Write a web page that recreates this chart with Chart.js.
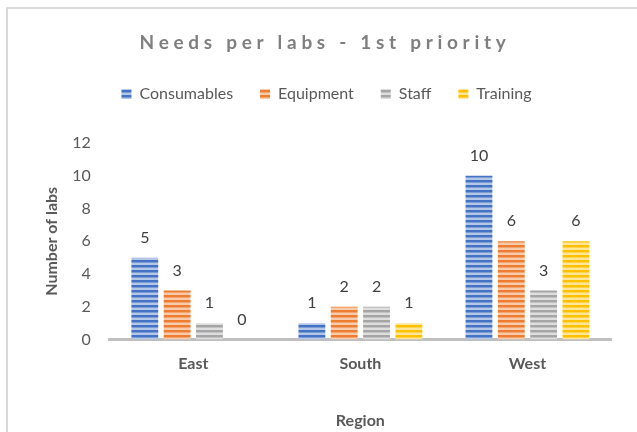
<!DOCTYPE html>
<html>
<head>
<meta charset="utf-8">
<script src="https://cdn.jsdelivr.net/npm/chart.js@4"></script>
<style>
  html, body { margin: 0; padding: 0; background: #fff; overflow: hidden; }
  #frame { position: absolute; left: 6px; top: 7px; width: 700px; height: 500px;
           border-left: 2px solid #d9d9d9; border-top: 2px solid #d9d9d9; }
  #wrap { position: absolute; left: 0; top: 0; width: 637px; height: 432px; }
</style>
</head>
<body>
<div id="frame"></div>
<div id="wrap"><canvas id="chart"></canvas></div>
<script>
const TITLE = "Needs per labs - 1st priority";
const regions = ["East", "South", "West"];
const seriesNames = ["Consumables", "Equipment", "Staff", "Training"];
const consumables = [5, 1, 10];
const equipment = [3, 2, 6];
const staff = [1, 2, 3];
const training = [0, 1, 6];
const yTicks = [0, 2, 4, 6, 8, 10, 12];

const COLORS = {
  consumables: ["#4472c4", "#b4c7e7"],
  equipment: ["#ed7d31", "#f8cbad"],
  staff: ["#a5a5a5", "#dedede"],
  training: ["#ffc000", "#ffe699"],
};

const FONT = "Lato, 'Open Sans', sans-serif";

function stripes([dark, light]) {
  const c = document.createElement("canvas");
  c.width = 4;
  c.height = 5;
  const g = c.getContext("2d");
  g.fillStyle = light;
  g.fillRect(0, 0, 4, 5);
  g.fillStyle = dark;
  g.fillRect(0, 0, 4, 2);
  g.globalAlpha = 0.5;
  g.fillRect(0, 2, 4, 1);
  return g.createPattern(c, "repeat");
}

const titlePlugin = {
  id: "spacedTitle",
  afterDraw(chart) {
    const ctx = chart.ctx;
    ctx.save();
    ctx.font = "bold 19px " + FONT;
    ctx.fillStyle = "#7f7f7f";
    ctx.letterSpacing = "4.7px";
    ctx.textAlign = "center";
    ctx.textBaseline = "middle";
    ctx.fillText(TITLE, 325, 43);
    ctx.restore();
  },
};

// extra room between legend and plot
const legendGap = {
  id: "legendGap",
  beforeInit(chart) {
    const fit = chart.legend.fit;
    chart.legend.fit = function () {
      fit.call(this);
      this.height += 31;
    };
  },
};

const valueLabels = {
  id: "valueLabels",
  afterDatasetsDraw(chart) {
    const ctx = chart.ctx;
    ctx.save();
    ctx.font = "16px " + FONT;
    ctx.fillStyle = "#404040";
    ctx.textAlign = "center";
    ctx.textBaseline = "bottom";
    chart.data.datasets.forEach((ds, i) => {
      chart.getDatasetMeta(i).data.forEach((bar, j) => {
        ctx.fillText(String(ds.data[j]), bar.x, bar.y - 12);
      });
    });
    ctx.restore();
  },
};

const series = [consumables, equipment, staff, training];
const palette = [COLORS.consumables, COLORS.equipment, COLORS.staff, COLORS.training];

new Chart(document.getElementById("chart").getContext("2d"), {
  type: "bar",
  data: {
    labels: regions,
    datasets: series.map((d, i) => ({
      label: seriesNames[i],
      data: d,
      backgroundColor: stripes(palette[i]),
      borderWidth: 0,
      categoryPercentage: 0.774,
      barPercentage: 0.83,
    })),
  },
  options: {
    responsive: true,
    maintainAspectRatio: false,
    animation: false,
    layout: { padding: { top: 59, right: 26, left: 42, bottom: 2 } },
    scales: {
      x: {
        grid: { display: false },
        border: { display: true, color: "#bfbfbf", width: 3 },
        ticks: { color: "#595959", font: { family: FONT, size: 16, weight: "bold" }, padding: 7 },
        title: { display: true, text: "Region", color: "#595959", font: { family: FONT, size: 16, weight: "bold" }, padding: { top: 30, bottom: 0 } },
      },
      y: {
        min: 0,
        max: 12,
        afterBuildTicks: (axis) => { axis.ticks = yTicks.map((v) => ({ value: v })); },
        grid: { display: false },
        border: { display: false },
        ticks: { color: "#595959", font: { family: FONT, size: 16 }, padding: 11 },
        title: { display: true, text: "Number of labs", color: "#595959", font: { family: FONT, size: 16, weight: "bold" }, padding: 0 },
      },
    },
    plugins: {
      legend: {
        position: "top",
        labels: {
          color: "#595959",
          font: { family: FONT, size: 16 },
          boxWidth: 10,
          boxHeight: 10,
          padding: 27,
        },
      },
      tooltip: { enabled: false },
    },
  },
  plugins: [titlePlugin, legendGap, valueLabels],
});
</script>
</body>
</html>
